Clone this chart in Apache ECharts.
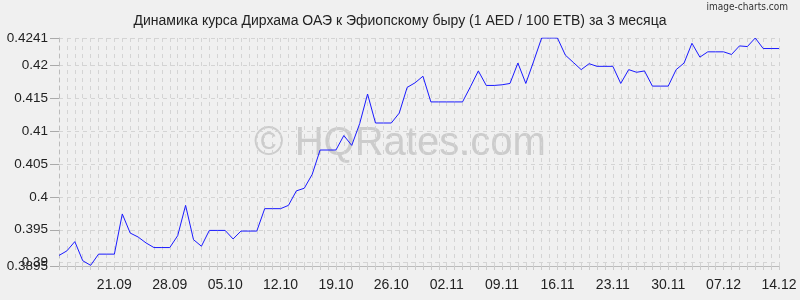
<!DOCTYPE html>
<html>
<head>
<meta charset="utf-8">
<script src="https://cdn.jsdelivr.net/npm/echarts@6/dist/echarts.min.js"></script>
<style>
html,body{margin:0;padding:0;background:#f0f0f0;}
#chart{width:800px;height:300px;}
</style>
</head>
<body>
<div id="chart"></div>
<script>
// Period: 14.09 .. 14.12 (daily)
const startDate = [2023, 8, 14]; // year, month index, day
const dayCount = 92;
const rates = [
  0.3911, 0.3918, 0.3932, 0.3903, 0.3896, 0.3913, 0.3913, 0.3913, 0.3974, 0.3945,
  0.3939, 0.3930, 0.3923, 0.3923, 0.3923, 0.3941, 0.3987, 0.3935, 0.3925, 0.3949,
  0.3949, 0.3949, 0.3936, 0.3948, 0.3948, 0.3948, 0.3982, 0.3982, 0.3982, 0.3987,
  0.4009, 0.4013, 0.4034, 0.4071, 0.4071, 0.4071, 0.4093, 0.4078, 0.4111, 0.4156,
  0.4112, 0.4112, 0.4112, 0.4127, 0.4166, 0.4173, 0.4183, 0.4144, 0.4144, 0.4144,
  0.4144, 0.4144, 0.4167, 0.4191, 0.4169, 0.4169, 0.4170, 0.4172, 0.4203, 0.4172,
  0.4206, 0.4241, 0.4241, 0.4241, 0.4215, 0.4204, 0.4193, 0.4202, 0.4198, 0.4198,
  0.4198, 0.4172, 0.4193, 0.4189, 0.4191, 0.4168, 0.4168, 0.4168, 0.4193, 0.4203,
  0.4233, 0.4212, 0.4220, 0.4220, 0.4220, 0.4216, 0.4229, 0.4228, 0.4241, 0.4225,
  0.4225, 0.4225
];
const tickLabels = ['21.09','28.09','05.10','12.10','19.10','26.10','02.11','09.11','16.11','23.11','30.11','07.12','14.12'];
const yTicks = [0.3895, 0.39, 0.395, 0.4, 0.405, 0.41, 0.415, 0.42, 0.4241];
const yMin = 0.3895, yMax = 0.4241;
const titleText = 'Динамика курса Дирхама ОАЭ к Эфиопскому быру (1 AED / 100 ETB) за 3 месяца';

const categories = [];
for (let i = 0; i < dayCount; i++) {
  const d = new Date(Date.UTC(startDate[0], startDate[1], startDate[2] + i));
  const dd = String(d.getUTCDate()).padStart(2, '0');
  const mm = String(d.getUTCMonth() + 1).padStart(2, '0');
  categories.push(dd + '.' + mm);
}

const chart = echarts.init(document.getElementById('chart'), null, {renderer: 'canvas'});
const FONT = 'Liberation Sans, Arial, sans-serif';
const fmt = function (v) { return String(+v.toFixed(4)); };
chart.setOption({
  backgroundColor: '#f0f0f0',
  animation: false,
  title: {
    text: titleText,
    left: 'center',
    top: 9,
    textStyle: {fontSize: 14, fontWeight: 'normal', color: '#222', fontFamily: FONT}
  },
  graphic: [
    {
      type: 'text', right: 12, top: 2,
      style: {text: 'image-charts.com', fontSize: 10, fill: '#333', fontFamily: 'DejaVu Sans Condensed, DejaVu Sans'}
    },
    {
      type: 'text', left: 'center', top: 124, z: 0,
      style: {text: '© HQRates.com', fontSize: 40, fill: 'rgba(160,160,160,0.45)', fontFamily: FONT}
    }
  ],
  grid: {left: 59, right: 21, top: 38, bottom: 34},
  xAxis: {
    type: 'category',
    data: categories,
    boundaryGap: false,
    axisLine: {show: true, lineStyle: {color: '#bbb', width: 1}},
    axisTick: {show: true, interval: 0, length: 4, lineStyle: {color: '#ccc'}},
    axisLabel: {
      interval: function (idx, val) { return tickLabels.indexOf(val) >= 0; },
      fontSize: 14, color: '#222', fontFamily: FONT, margin: 12
    },
    splitLine: {show: true, interval: 0, lineStyle: {color: '#d4d4d4', type: [4, 4], width: 1}}
  },
  yAxis: [{
    type: 'value',
    min: yMin, max: yMax,
    axisLine: {show: true, lineStyle: {color: '#bbb', type: [4, 4]}},
    axisTick: {show: true, length: 9, customValues: yTicks, lineStyle: {color: '#aaa'}},
    axisLabel: {
      customValues: yTicks,
      showMinLabel: true, showMaxLabel: true, hideOverlap: false,
      fontSize: 13.5, color: '#222', fontFamily: FONT, margin: 11,
      formatter: fmt
    },
    splitLine: {show: true, lineStyle: {color: '#d4d4d4', type: [4, 4], width: 1}}
  }, {
    type: 'value',
    position: 'left',
    min: yMin, max: yMax,
    axisLine: {show: false},
    axisTick: {show: false},
    splitLine: {show: false},
    axisLabel: {
      customValues: [yTicks[1]],
      showMinLabel: false, showMaxLabel: false,
      fontSize: 13.5, color: '#222', fontFamily: FONT, margin: 11,
      formatter: fmt
    }
  }],
  series: [{
    type: 'line',
    data: rates,
    yAxisIndex: 0,
    showSymbol: false,
    symbol: 'none',
    lineStyle: {color: '#1a1aff', width: 1},
    z: 5
  }]
});
</script>
</body>
</html>
